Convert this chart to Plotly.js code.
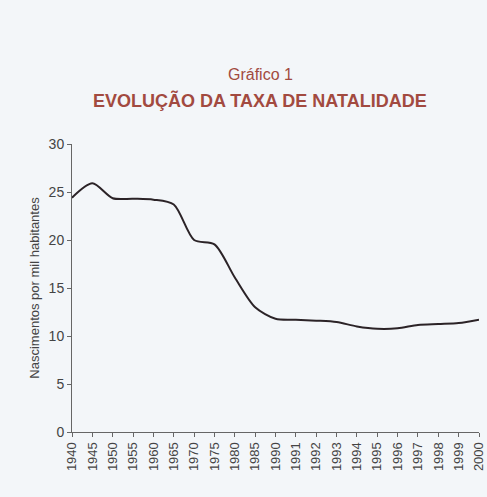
<!DOCTYPE html>
<html>
<head>
<meta charset="utf-8">
<script src="https://cdn.plot.ly/plotly-3.0.1.min.js"></script>
<style>html,body{margin:0;padding:0;background:#f3f6f9;}</style>
</head>
<body>
<div id="chart" style="width:487px;height:497px;"></div>
<script>
const years = ["1940","1945","1950","1955","1960","1965","1970","1975","1980","1985","1990","1991","1992","1993","1994","1995","1996","1997","1998","1999","2000"];
const birthRate = [24.4,25.9,24.35,24.3,24.2,23.7,20.0,19.55,16.1,13.0,11.8,11.7,11.6,11.45,11.0,10.75,10.8,11.15,11.25,11.35,11.7];
const yTicks = [0,5,10,15,20,25,30];
const titleLine1 = 'Gráfico 1';
const titleLine2 = 'EVOLUÇÃO DA TAXA DE NATALIDADE';

const trace = {
  x: years,
  y: birthRate,
  type: 'scatter',
  mode: 'lines',
  line: {color: '#2b2327', width: 2, shape: 'spline', smoothing: 0.8},
  hoverinfo: 'skip'
};

const fam = 'Liberation Sans, Arial, sans-serif';
const layout = {
  width: 487,
  height: 497,
  paper_bgcolor: '#f3f6f9',
  plot_bgcolor: '#f3f6f9',
  margin: {l: 72, r: 8, t: 144, b: 65},
  showlegend: false,
  annotations: [
    {text: titleLine1, xref: 'paper', yref: 'paper', x: (260-72)/407, y: 1 + (144-74)/288,
     xanchor: 'center', yanchor: 'middle', showarrow: false,
     font: {family: fam, size: 16, color: '#a24a40'}},
    {text: '<b>' + titleLine2 + '</b>', xref: 'paper', yref: 'paper', x: (260-72)/407, y: 1 + (144-100)/288,
     xanchor: 'center', yanchor: 'middle', showarrow: false,
     font: {family: fam, size: 18, color: '#a24a40'}}
  ],
  xaxis: {
    type: 'category',
    tickvals: years,
    ticktext: years,
    tickangle: -90,
    ticks: 'outside', ticklen: 4, tickcolor: '#666',
    showline: true, linecolor: '#666', linewidth: 1,
    showgrid: false, zeroline: false,
    range: [0, years.length - 1],
    tickfont: {family: fam, size: 13, color: '#444'}
  },
  yaxis: {
    range: [0, 30],
    tickvals: yTicks,
    ticks: 'outside', ticklen: 4, tickcolor: '#666',
    showline: true, linecolor: '#666', linewidth: 1,
    showgrid: false, zeroline: false,
    tickfont: {family: fam, size: 14, color: '#444'},
    title: {text: 'Nascimentos por mil habitantes', standoff: 6,
            font: {family: fam, size: 13, color: '#444'}}
  }
};

Plotly.newPlot('chart', [trace], layout, {displayModeBar: false, staticPlot: true});
</script>
</body>
</html>
